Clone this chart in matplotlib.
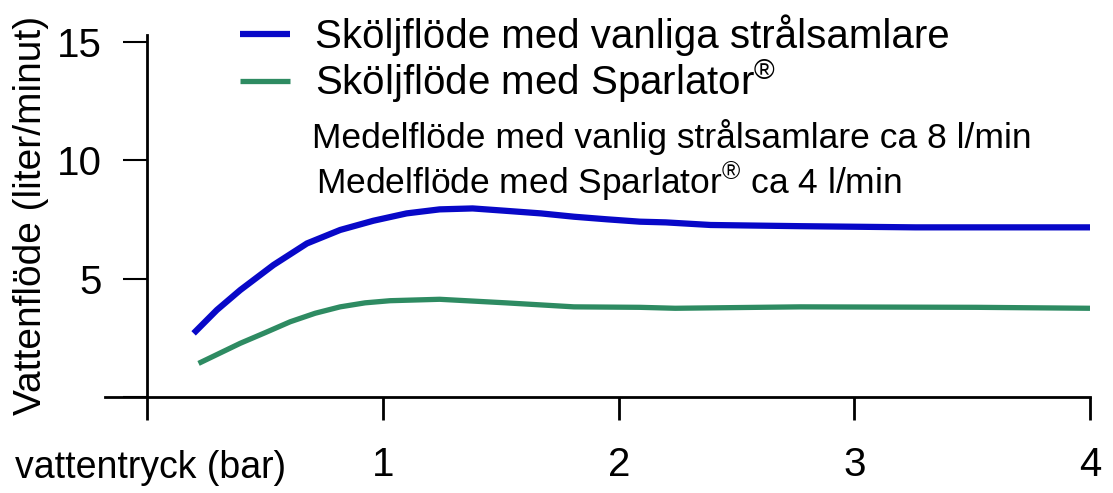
import matplotlib
matplotlib.use('Agg')
import matplotlib.pyplot as plt

plt.rcParams['font.family'] = ['Liberation Sans', 'DejaVu Sans']
plt.rcParams['mathtext.fontset'] = 'custom'
plt.rcParams['mathtext.rm'] = 'Liberation Sans'

# pressure (bar) and flow (l/min)
tryck_vanlig = [0.196, 0.295, 0.394, 0.535, 0.677, 0.818, 0.959, 1.10, 1.24, 1.38, 1.52, 1.67, 1.81, 1.95,
                2.09, 2.20, 2.39, 2.77, 3.26, 4.0]
flode_vanlig = [2.69, 3.68, 4.52, 5.58, 6.49, 7.06, 7.45, 7.76, 7.93, 7.97, 7.87, 7.76, 7.62, 7.51,
                7.41, 7.38, 7.27, 7.22, 7.17, 7.17]
tryck_sparlator = [0.217, 0.394, 0.5, 0.606, 0.712, 0.818, 0.924, 1.03, 1.24, 1.52, 1.81, 2.09, 2.24, 2.77,
                   3.52, 4.0]
flode_sparlator = [1.42, 2.27, 2.72, 3.18, 3.54, 3.81, 3.98, 4.07, 4.13, 3.98, 3.81, 3.79, 3.75, 3.81,
                   3.79, 3.75]

x_ticks = [0, 1, 2, 3, 4]
x_ticklabels = ['', '1', '2', '3', '4']
y_ticks = [0, 5, 10, 15]
y_ticklabels = ['', '5', '10', '15']

fig = plt.figure(figsize=(11.13, 4.93), dpi=100)
ax = fig.add_axes([105 / 1113, 1 - 397 / 493, (1090 - 105) / 1113, (397 - 35) / 493])

blue, = ax.plot(tryck_vanlig, flode_vanlig, color='#0808c8', lw=4.5, solid_capstyle='butt',
                solid_joinstyle='round', label='Sköljflöde med vanliga strålsamlare')
green, = ax.plot(tryck_sparlator, flode_sparlator, color='#2e8b62', lw=3.8, solid_capstyle='butt',
                 solid_joinstyle='round', label='Sköljflöde med Sparlator$^{®}$')

ax.set_xlim(-0.18, 4)
ax.set_ylim(0, 15.3)

# axes look: left spine at x=0, bottom spine runs a bit past it
for side in ['top', 'right']:
    ax.spines[side].set_visible(False)
ax.spines['left'].set_position(('data', 0))
ax.spines['left'].set_linewidth(2)
ax.spines['bottom'].set_linewidth(2)
ax.spines['bottom'].set_bounds(-0.18, 4)

ax.set_xticks(x_ticks, x_ticklabels)
ax.set_yticks(y_ticks, y_ticklabels)
ax.tick_params(axis='x', direction='out', length=16.5, width=2, pad=19, labelsize=29)
ax.tick_params(axis='y', direction='out', length=17, width=1.5, pad=16, labelsize=29)

fig.text(15 / 1113, 1 - 468 / 493, 'vattentryck (bar)', fontsize=27, ha='left', va='center')
fig.text(31 / 1113, 1 - 215 / 493, 'Vattenflöde (liter/minut)', fontsize=28, rotation=90,
         ha='center', va='center')

ax.legend(handles=[blue, green], loc='upper left', bbox_to_anchor=(240 / 1113, 1 - 14 / 493),
          bbox_transform=fig.transFigure, frameon=False, fontsize=29, handlelength=1.25,
          handletextpad=0.6, labelspacing=0.05, borderpad=0, borderaxespad=0)

fig.text(312 / 1113, 1 - 137 / 493, 'Medelflöde med vanlig strålsamlare ca 8 l/min', fontsize=25.5,
         ha='left', va='center')
fig.text(316 / 1113, 1 - 181 / 493, 'Medelflöde med Sparlator$^{®}$ ca 4 l/min', fontsize=25.5,
         ha='left', va='center')

fig.savefig('out.png', dpi=100)
